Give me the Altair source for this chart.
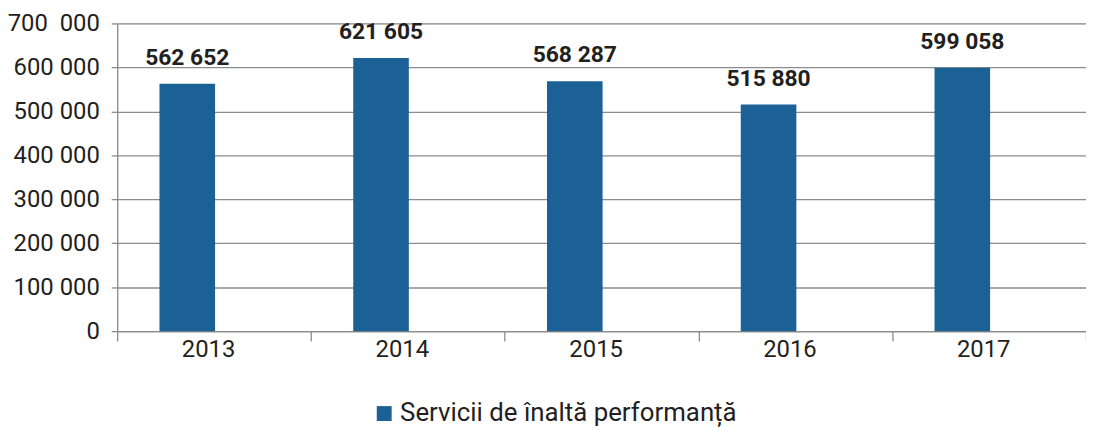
import json
import altair as alt
import pandas as pd

years = ["2013", "2014", "2015", "2016", "2017"]
values = [562652, 621605, 568287, 515880, 599058]
value_labels = ["562 652", "621 605", "568 287", "515 880", "599 058"]
series_name = "Servicii de înaltă performanță"
y_ticks = [0, 100000, 200000, 300000, 400000, 500000, 600000, 700000]
y_tick_labels = ["0", "100 000", "200 000", "300 000", "400 000", "500 000", "600 000", "700\u00a0 000"]

df = pd.DataFrame({
    "year": years,
    "value": values,
    "label": value_labels,
    "series": [series_name] * len(years),
})

BAR = "#1c6195"
GRID = "#8c8c8c"
TXT = "#231f20"

label_expr = json.dumps(y_tick_labels) + "[round(datum.value / 100000)]"

x = alt.X(
    "year:N",
    title=None,
    sort=years,
    scale=alt.Scale(paddingInner=0, paddingOuter={"expr": "-0.0228"}, align=0),
    axis=alt.Axis(
        labelAngle=0,
        labelFont="Roboto",
        labelFontSize=24,
        labelColor=TXT,
        labelPadding=-3,
        labelOffset=-6,
        tickBand="extent",
        tickSize=10,
        tickColor=GRID,
        tickWidth=1.3,
        domainColor=GRID,
        domainWidth=1.3,
        grid=False,
    ),
)

y = alt.Y(
    "value:Q",
    title=None,
    scale=alt.Scale(domain=[0, 700000], nice=False, zero=True),
    axis=alt.Axis(
        values=y_ticks,
        labelExpr=label_expr,
        labelFont="Roboto",
        labelFontSize=24,
        labelColor=TXT,
        labelPadding=12,
        tickSize=6,
        tickColor=GRID,
        tickWidth=1.3,
        domainColor=GRID,
        domainWidth=1.3,
        grid=True,
        gridColor=GRID,
        gridWidth=1.3,
    ),
)

bars = alt.Chart(df).mark_bar(width=56, xOffset=-27).encode(
    x=x,
    y=y,
    color=alt.Color(
        "series:N",
        scale=alt.Scale(domain=[series_name], range=[BAR]),
        legend=alt.Legend(
            title=None,
            orient="none",
            legendX=256,
            legendY=380,
            symbolType="square",
            symbolSize=225,
            symbolStrokeWidth=0,
            labelFont="Roboto",
            labelFontSize=26,
            labelColor=TXT,
            labelOffset=3,
            labelLimit=600,
        ),
    ),
)

text = alt.Chart(df).mark_text(
    xOffset=-27,
    dy=-14,
    baseline="bottom",
    font="Roboto",
    fontWeight="bold",
    fontSize=23,
    color=TXT,
).encode(
    x=alt.X("year:N", sort=years),
    y=alt.Y("value:Q"),
    text="label:N",
)

chart = (
    alt.layer(bars, text)
    .properties(
        width=976,
        height=310,
        autosize=alt.AutoSizeParams(type="none"),
        padding={"left": 110, "top": 14, "right": 0, "bottom": 97},
    )
    .configure_view(stroke=None)
    .configure(background="white")
)

chart.save("out.html", embed_options={"renderer": "svg", "actions": False})
